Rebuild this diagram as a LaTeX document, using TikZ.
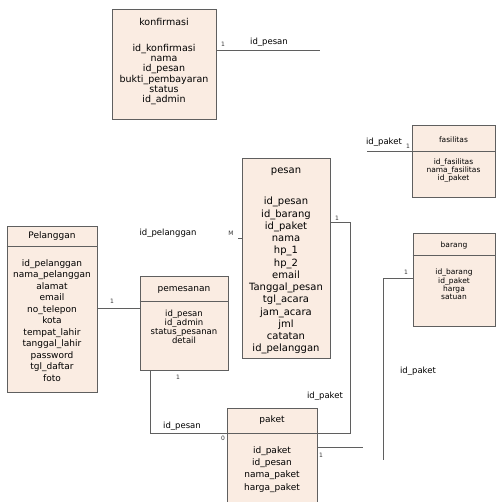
\documentclass[tikz,border=0pt]{standalone}
\usepackage{fontspec}
\setmainfont{DejaVu Sans}

\definecolor{isitabel}{RGB}{250,236,226}
\definecolor{garis}{RGB}{95,95,95}
\newcommand{\ukuran}[2]{\fontsize{#1}{#2}\selectfont}

\tikzset{
  tabel/.style={draw=garis, fill=isitabel, line width=0.8pt, inner sep=0pt},
  judul/.style={inner sep=0pt, text=black},
  kolom/.style={inner sep=0pt, align=center, anchor=north, text=black},
  relasi/.style={draw=garis, line width=0.7pt},
  ket/.style={inner sep=0pt, text=black, font=\ukuran{8.5}{10}},
  kecil/.style={inner sep=0pt, text=black!80, font=\ukuran{6}{7}}
}

\begin{document}
\begin{tikzpicture}[x=1pt, y=-1pt]
    \useasboundingbox (0,0) rectangle (497,502);

    %%konfirmasi
    \node[tabel, minimum width=104, minimum height=110] (konfirmasi) at (164,64) {};
    \node[judul, font=\ukuran{9.5}{11}] (konfirmasi-judul) at (164,22) {konfirmasi};
    \node[kolom, font=\ukuran{9.5}{10.2}] (konfirmasi-kolom) at (164,44)
        {id\_konfirmasi\\nama\\id\_pesan\\bukti\_pembayaran\\status\\id\_admin};

    %%pelanggan
    \node[tabel, minimum width=90, minimum height=166] (pelanggan) at (52,309) {};
    \draw[tabel] (pelanggan.west |- 0,246) -- (pelanggan.east |- 0,246);
    \node[judul, font=\ukuran{9}{11}] (pelanggan-judul) at (52,236) {Pelanggan};
    \node[kolom, font=\ukuran{9}{11.5}] (pelanggan-kolom) at (52,259.3)
        {id\_pelanggan\\nama\_pelanggan\\alamat\\email\\no\_telepon\\kota\\tempat\_lahir\\tanggal\_lahir\\password\\tgl\_daftar\\foto};

    %%pemesanan
    \node[tabel, minimum width=88, minimum height=94] (pemesanan) at (184,323) {};
    \draw[tabel] (pemesanan.west |- 0,301) -- (pemesanan.east |- 0,301);
    \node[judul, font=\ukuran{9}{11}] (pemesanan-judul) at (184,290) {pemesanan};
    \node[kolom, font=\ukuran{8.5}{9.2}] (pemesanan-kolom) at (184,309.5)
        {id\_pesan\\id\_admin\\status\_pesanan\\detail};

    %%pesan
    \node[tabel, minimum width=88, minimum height=200] (pesan) at (286,258) {};
    \node[judul, font=\ukuran{10}{12}] (pesan-judul) at (286,172) {pesan};
    \node[kolom, font=\ukuran{10}{12.25}] (pesan-kolom) at (286,197)
        {id\_pesan\\id\_barang\\id\_paket\\nama\\hp\_1\\hp\_2\\email\\Tanggal\_pesan\\tgl\_acara\\jam\_acara\\jml\\catatan\\id\_pelanggan};

    %%fasilitas
    \node[tabel, minimum width=83, minimum height=72] (fasilitas) at (453.5,161) {};
    \draw[tabel] (fasilitas.west |- 0,151) -- (fasilitas.east |- 0,151);
    \node[judul, font=\ukuran{7.5}{9}] (fasilitas-judul) at (453.5,140) {fasilitas};
    \node[kolom, font=\ukuran{7.5}{8}] (fasilitas-kolom) at (453.5,158.9)
        {id\_fasilitas\\nama\_fasilitas\\id\_paket};

    %%barang
    \node[tabel, minimum width=82, minimum height=93] (barang) at (454,279.5) {};
    \draw[tabel] (barang.west |- 0,255) -- (barang.east |- 0,255);
    \node[judul, font=\ukuran{7.5}{9}] (barang-judul) at (454,245) {barang};
    \node[kolom, font=\ukuran{7.5}{8.3}] (barang-kolom) at (454,268.9)
        {id\_barang\\id\_paket\\harga\\satuan};

    %%paket
    \node[tabel, minimum width=90, minimum height=95] (paket) at (272,455.5) {};
    \draw[tabel] (paket.west |- 0,433) -- (paket.east |- 0,433);
    \node[judul, font=\ukuran{9}{11}] (paket-judul) at (272,420) {paket};
    \node[kolom, font=\ukuran{9}{12.3}] (paket-kolom) at (272,446.3)
        {id\_paket\\id\_pesan\\nama\_paket\\harga\_paket};

    %%relasi
    \coordinate (ujung-konfirmasi) at (320,50);
    \draw[relasi] (konfirmasi.east |- 0,50) -- (ujung-konfirmasi);
    \node[ket] (ket-konfirmasi) at (269,42) {id\_pesan};
    \node[kecil] (kar-konfirmasi) at (223,44) {1};

    \draw[relasi] (pelanggan.east |- 0,308) -- (pemesanan.west |- 0,308);
    \node[kecil] (kar-pelanggan) at (112,301) {1};

    \draw[relasi] (pesan.west |- 0,238) -- ++(-4,0);
    \node[ket] (ket-pelanggan) at (168,233) {id\_pelanggan};
    \node[kecil] (kar-pesan-kiri) at (231,233) {M};

    \draw[relasi] (pemesanan.south -| 150,0) |- (paket.west |- 0,433);
    \node[ket] (ket-pemesanan) at (182,426) {id\_pesan};
    \node[kecil] (kar-pemesanan) at (178,377) {1};
    \node[kecil] (kar-paket-kiri) at (223,438) {0};

    \draw[relasi] (pesan.east |- 0,222) -| (350,433) -- (paket.east |- 0,433);
    \node[ket] (ket-pesan) at (325,396) {id\_paket};
    \node[kecil] (kar-pesan) at (337,218) {1};
    \node[kecil] (kar-paket-kanan) at (321,455) {1};

    \coordinate (ujung-paket) at (363,447);
    \draw[relasi] (paket.east |- 0,447) -- (ujung-paket);

    \coordinate (ujung-barang) at (383,460);
    \draw[relasi] (barang.west |- 0,278) -| (ujung-barang);
    \node[ket] (ket-barang) at (418,371) {id\_paket};
    \node[kecil] (kar-barang) at (406,272) {1};

    \coordinate (ujung-fasilitas) at (367,151);
    \draw[relasi] (fasilitas.west |- 0,151) -- (ujung-fasilitas);
    \node[ket] (ket-fasilitas) at (384,142) {id\_paket};
    \node[kecil] (kar-fasilitas) at (408,146) {1};
\end{tikzpicture}
\end{document}
